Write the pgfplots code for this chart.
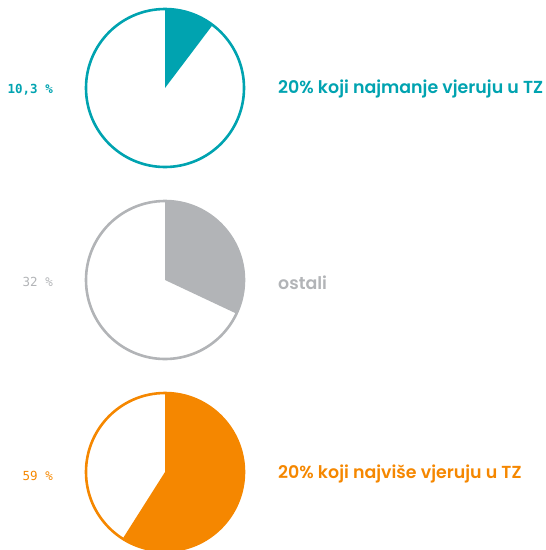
\documentclass[border=0pt]{standalone}
\usepackage{pgfplots}
\pgfplotsset{compat=1.18}
\usepackage{fontspec}
\newfontfamily\mono{DejaVu Sans Mono}
\newfontfamily\lab{Poppins}[UprightFont=* SemiBold]
\definecolor{cteal}{RGB}{0,163,176}
\definecolor{cgray}{RGB}{178,180,183}
\definecolor{corange}{RGB}{245,135,0}

% share in percent, colour, centre y (px from top)
\newcommand\pie[3]{%
\begin{axis}[at={(165pt,-#3pt)}, anchor=center,
  width=158pt, height=158pt, scale only axis,
  xmin=-1, xmax=1, ymin=-1, ymax=1, hide axis, clip=false]
  \fill[#2] (axis cs:0,0) -- (axis cs:0,1)
    arc[start angle=90, delta angle=-3.6*#1, radius=79pt] -- cycle;
  \draw[#2, line width=2.6pt] (axis cs:0,0) circle[radius=79pt];
\end{axis}}

\begin{document}
\begin{tikzpicture}
\path[use as bounding box] (0,0) rectangle (546pt,-550pt);
\pie{10.3}{cteal}{88}
\pie{32}{cgray}{280}
\pie{59}{corange}{472}

\tikzset{lft/.style={anchor=east, inner sep=0pt, font=\mono\fontsize{12.5}{14}\selectfont},
  rgt/.style={anchor=west, inner sep=0pt, font=\lab\fontsize{17.4}{19}\selectfont}}
\node[lft, text=cteal, font=\mono\bfseries\fontsize{12.5}{14}\selectfont] at (53pt,-90pt) {10,3 \%};
\node[lft, text=cgray] at (53pt,-282pt) {32 \%};
\node[lft, text=corange] at (53pt,-476pt) {59 \%};

\node[rgt, text=cteal] at (278pt,-89pt) {20\% koji najmanje vjeruju u TZ};
\node[rgt, text=cgray] at (278pt,-283pt) {ostali};
\node[rgt, text=corange] at (278pt,-474pt) {20\% koji najviše vjeruju u TZ};
\end{tikzpicture}
\end{document}
